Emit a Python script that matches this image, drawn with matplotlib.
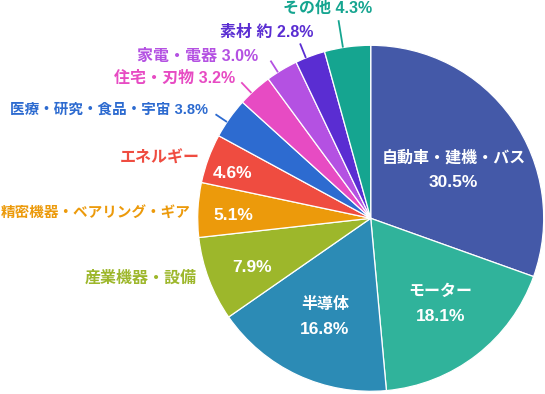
import numpy as np
import matplotlib
matplotlib.use("Agg")
import matplotlib.pyplot as plt

plt.rcParams['font.family'] = ['Liberation Sans', 'Noto Sans CJK JP', 'DejaVu Sans']

# data, clockwise from the top
names = ["自動車・建機・バス", "モーター", "半導体", "産業機器・設備",
         "精密機器・ベアリング・ギア", "エネルギー", "医療・研究・食品・宇宙",
         "住宅・刃物", "家電・電器", "素材 約", "その他"]
shares = [30.5, 18.1, 16.8, 7.9, 5.1, 4.6, 3.8, 3.2, 3.0, 2.8, 4.3]
colors = ["#4459a8", "#30b39b", "#2c8bb5", "#9db72b", "#ec9a0b", "#ef4c40",
          "#2d6bd0", "#e74bc3", "#b451e2", "#5a2dd2", "#15a590"]

# how each label is drawn: 'in2' name+pct inside, 'in1' pct inside / name outside, 'out' name+pct outside with leader
label_kind = ["in2", "in2", "in2", "in1", "in1", "in1", "out", "out", "out", "out", "out"]

R_PX = 173.0  # pie radius in pixels
cx, cy = 370.7, 218.3

fig = plt.figure(figsize=(5.45, 3.94), dpi=100)
ax = fig.add_axes([(cx - R_PX) / 545, (394 - cy - R_PX) / 394, 2 * R_PX / 545, 2 * R_PX / 394])

wedges, _ = ax.pie(shares, colors=colors, startangle=90, counterclock=False, radius=1,
                   wedgeprops=dict(edgecolor="white", linewidth=0.9))
ax.set_xlim(-1, 1)
ax.set_ylim(-1, 1)
ax.axis("off")

fs = 11.5       # label text
fs_num = 12.5   # percentages inside the pie
fs_long = 10.5  # the two long outside labels
mids = [np.deg2rad((w.theta1 + w.theta2) / 2) for w in wedges]

# inside label radius and small angle nudge (degrees)
in_r = [0.553, 0.637, 0.628, 0.742, 0.796, 0.838]
in_da = [-5.0, 1.4, 0.0, 2.0, 1.7, 2.3]
# outside name (no leader) : right end at (r, angle)
side_pos = {3: (1.061, -161.1), 4: (1.04, 178.4), 5: (1.046, 160.5)}
# leader labels: leader end radius, text right end (r, angle)
lead_end = {6: 1.08, 7: 1.085, 8: 1.08, 9: 1.09, 10: 1.16}
lead_txt = {6: (1.13, 146.3), 7: (1.128, 134.0), 8: (1.142, 124.8), 9: (1.125, 107.2), 10: (1.214, 89.6)}
long_ones = [4, 6]

dy = 12.5 / R_PX
for i, (nm, v, c, k) in enumerate(zip(names, shares, colors, label_kind)):
    pct = f"{v:.1f}%"
    size = fs_long if i in long_ones else fs
    if k in ("in2", "in1"):
        a = mids[i] + np.deg2rad(in_da[i])
        x, y = in_r[i] * np.cos(a), in_r[i] * np.sin(a)
        if k == "in2":
            ax.text(x, y + dy, nm, color="white", fontsize=fs, fontweight="bold", ha="center", va="center")
            ax.text(x, y - dy, pct, color="white", fontsize=fs_num, fontweight="bold", ha="center", va="center")
        else:
            ax.text(x, y, pct, color="white", fontsize=fs_num, fontweight="bold", ha="center", va="center")
            r, ang = side_pos[i]
            ax.text(r * np.cos(np.deg2rad(ang)), r * np.sin(np.deg2rad(ang)), nm, color=c,
                    fontsize=size, fontweight="bold", ha="right", va="center")
    else:
        a = mids[i] + np.deg2rad(1.5)
        re = lead_end[i]
        ax.plot([np.cos(a), re * np.cos(a)], [np.sin(a), re * np.sin(a)], color=c, lw=1.3,
                solid_capstyle="butt", clip_on=False)
        r, ang = lead_txt[i]
        ax.text(r * np.cos(np.deg2rad(ang)), r * np.sin(np.deg2rad(ang)), f"{nm} {pct}", color=c,
                fontsize=size, fontweight="bold", ha="right", va="center")

fig.savefig("out.png", dpi=100)
